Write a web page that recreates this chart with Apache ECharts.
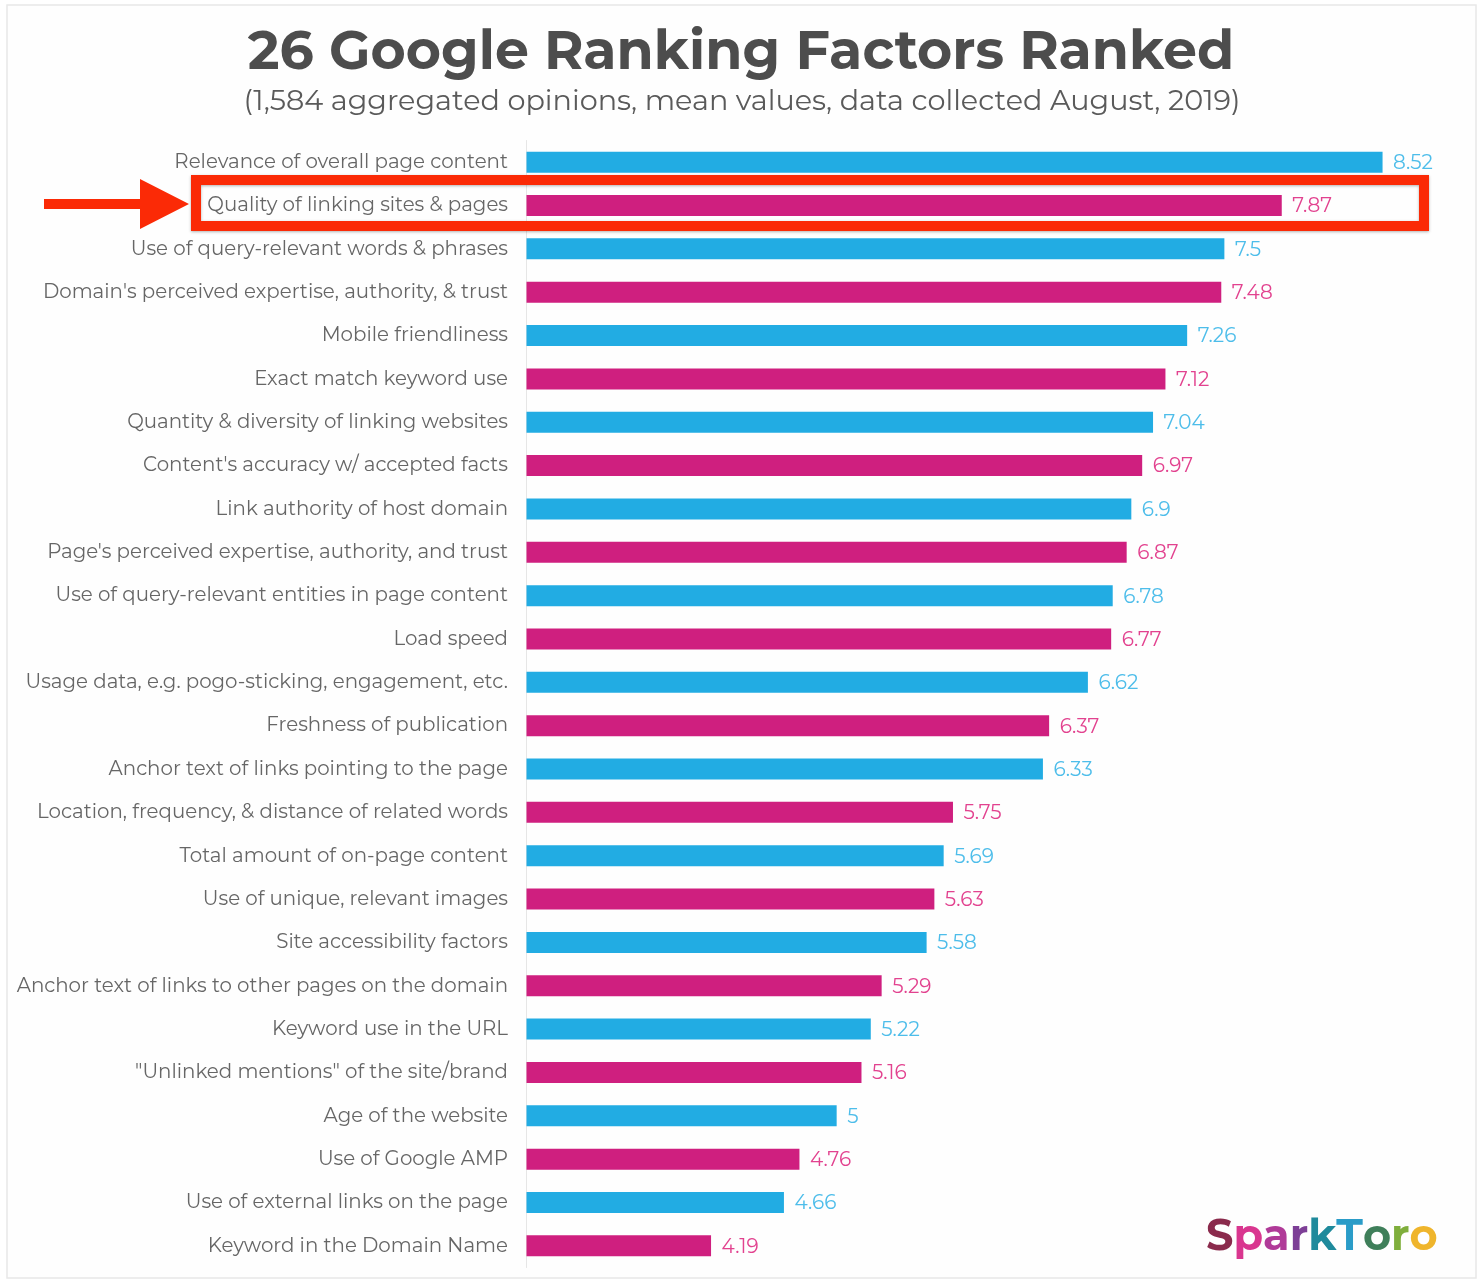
<!DOCTYPE html>
<html lang="en">
<head>
<meta charset="UTF-8">
<title>26 Google Ranking Factors Ranked</title>
<style>
    html, body { margin: 0; padding: 0; background: #ffffff; }
    #main { width: 1480px; height: 1282px; }
</style>
</head>
<body>
<div id="main"></div>
<script src="https://cdn.jsdelivr.net/npm/echarts@6/dist/echarts.min.js"></script>
<script>
var factors = [
    'Relevance of overall page content', 'Quality of linking sites & pages',
    'Use of query-relevant words & phrases', "Domain's perceived expertise, authority, & trust",
    'Mobile friendliness', 'Exact match keyword use',
    'Quantity & diversity of linking websites', "Content's accuracy w/ accepted facts",
    'Link authority of host domain', "Page's perceived expertise, authority, and trust",
    'Use of query-relevant entities in page content', 'Load speed',
    'Usage data, e.g. pogo-sticking, engagement, etc.', 'Freshness of publication',
    'Anchor text of links pointing to the page', 'Location, frequency, & distance of related words',
    'Total amount of on-page content', 'Use of unique, relevant images',
    'Site accessibility factors', 'Anchor text of links to other pages on the domain',
    'Keyword use in the URL', '"Unlinked mentions" of the site/brand',
    'Age of the website', 'Use of Google AMP',
    'Use of external links on the page', 'Keyword in the Domain Name'
];
var scores = [8.52, 7.87, 7.5, 7.48, 7.26, 7.12, 7.04, 6.97, 6.9, 6.87, 6.78, 6.77, 6.62,
    6.37, 6.33, 5.75, 5.69, 5.63, 5.58, 5.29, 5.22, 5.16, 5, 4.76, 4.66, 4.19];
var logoLetters = ['S', 'p', 'a', 'r', 'k', 'T', 'o', 'r', 'o'];
var logoColors = ['#8a2a4c', '#d9368f', '#b03a98', '#7d3f96', '#1f8a9c', '#2a9cc8', '#3f7f5a', '#7fae3c', '#efb52c'];
var blue = '#22ace3', pink = '#cf1f7f';
var blueLabel = '#4dbdea', pinkLabel = '#e2428f', red = '#fb2a06';
var font = 'Montserrat, Lato, "Open Sans", sans-serif';

var logoRich = {};
logoColors.forEach(function (c, i) {
    logoRich['c' + i] = { fill: c, fontFamily: font, fontSize: 43, fontWeight: 'bold' };
});
var logoText = logoLetters.map(function (l, i) { return '{c' + i + '|' + l + '}'; }).join('');

var chart = echarts.init(document.getElementById('main'), null, { renderer: 'canvas' });

chart.setOption({
    animation: false,
    backgroundColor: '#ffffff',
    title: [
        { text: '26 Google Ranking Factors Ranked', left: 736, top: 21, textAlign: 'center',
          textStyle: { fontFamily: font, fontSize: 53.8, fontWeight: 'bold', color: '#4d4d4d' } },
        { text: '(1,584 aggregated opinions, mean values, data collected August, 2019)', left: 737, top: 82, textAlign: 'center',
          textStyle: { fontFamily: font, fontSize: 28.7, fontWeight: 'normal', color: '#5a5a5a' } }
    ],
    grid: { left: 526.5, right: 23, top: 140.5, bottom: 14.5, outerBoundsMode: 'none' },
    // the bars start at 3, not 0
    xAxis: { type: 'value', min: 3, max: 9, show: false },
    yAxis: {
        type: 'category', inverse: true, data: factors,
        axisTick: { show: false },
        axisLine: { lineStyle: { color: '#e6e6e6', width: 1 } },
        axisLabel: { fontFamily: font, fontSize: 19.8, color: '#666666', margin: 18.5 }
    },
    series: [{
        type: 'bar',
        barWidth: 21,
        data: scores.map(function (v, i) {
            return { value: v, itemStyle: { color: i % 2 ? pink : blue },
                     label: { color: i % 2 ? pinkLabel : blueLabel } };
        }),
        label: { show: true, position: 'right', distance: 10.5, offset: [0, 1], fontFamily: font, fontSize: 20 }
    }],
    graphic: [
        { type: 'rect', shape: { x: 7, y: 5, width: 1469, height: 1273 }, z: -1,
          style: { fill: '#fefefe', stroke: '#e8e8e8', lineWidth: 1.5 } },
        { type: 'rect', shape: { x: 196, y: 180, width: 1228, height: 46 }, z: 20,
          style: { fill: 'transparent', stroke: red, lineWidth: 10, shadowBlur: 3, shadowColor: 'rgba(0,0,0,0.3)', shadowOffsetY: 1 } },
        { type: 'polygon', shape: { points: [[44, 199], [140, 199], [140, 179], [189, 204], [140, 229], [140, 209], [44, 209]] }, z: 20,
          style: { fill: red } },
        { type: 'text', left: 1206, top: 1216, style: { rich: logoRich, text: logoText } }
    ]
});
</script>
</body>
</html>
